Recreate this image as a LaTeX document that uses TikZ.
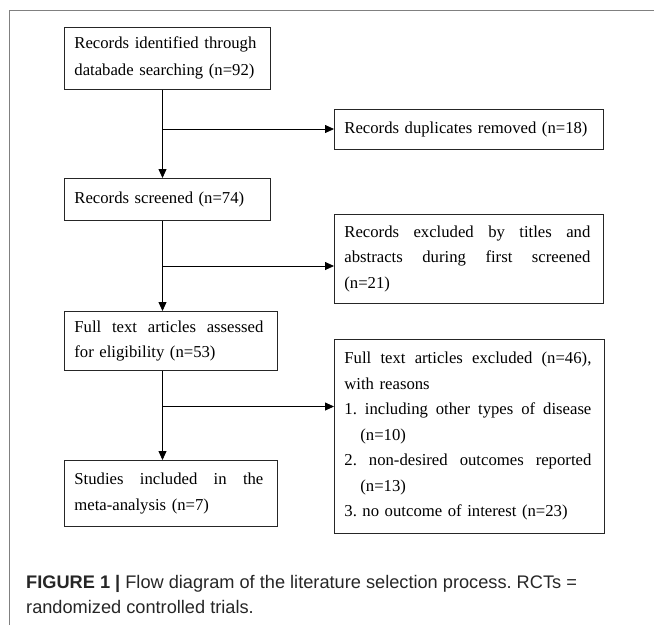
\documentclass[tikz,border=0pt]{standalone}
\usepackage{fontspec}
\setmainfont{Liberation Serif}
\newfontfamily\captionFont{Liberation Sans}
\usetikzlibrary{arrows.meta}
\setlength{\parindent}{0pt}
\frenchspacing
\tikzstyle{recordBox} = [draw=black!85, line width=0.8pt, anchor=north west, inner xsep=10pt, inner ysep=0pt, align=left, font=\fontsize{16.7}{25.5}\selectfont]
\tikzstyle{flowArrow} = [line width=0.8pt, -{Triangle[length=9pt, width=8pt]}]
\tikzstyle{frameLine} = [draw=black!50, line width=0.9pt]
\tikzstyle{captionText} = [anchor=base west, inner sep=0pt, text=black!85, font=\captionFont\fontsize{18.2}{25}\selectfont]
\newcommand{\justLine}[2]{\makebox[#1][s]{\spaceskip=0.25em plus 1fil\relax #2}}
\newcommand{\itemIndent}{\hspace*{16pt}}

\begin{document}
\begin{tikzpicture}[x=1pt, y=-1pt]
  \useasboundingbox (0,0) rectangle (654,625);
  \draw [frameLine] (9.5,625) -- (9.5,10.5) -- (654,10.5);

  \node [recordBox, text width=186pt, minimum height=62pt] (identified) at (64,27)
    {\justLine{182pt}{Records identified through}\\[1.5pt]\mbox{databade searching (n=92)}};
  \node [recordBox, text width=249pt, minimum height=40pt] (duplicates) at (334,109)
    {\mbox{Records duplicates removed (n=18)}};
  \node [recordBox, text width=186pt, minimum height=42pt] (screened) at (64,178)
    {\mbox{Records screened (n=74)}};
  \node [recordBox, text width=249pt, minimum height=89pt] (titles) at (334,214)
    {\justLine{246pt}{Records excluded by titles and}\\\justLine{246pt}{abstracts during first screened}\\(n=21)};
  \node [recordBox, text width=193pt, minimum height=59pt] (fulltext) at (64,311)
    {\justLine{189pt}{Full text articles assessed}\\\mbox{for eligibility (n=53)}};
  \node [recordBox, text width=250pt, minimum height=194pt] (excluded) at (334,339)
    {\justLine{247pt}{Full text articles excluded (n=46),}\\with reasons\\
     \justLine{247pt}{1. including other types of disease}\\\itemIndent(n=10)\\
     \justLine{247pt}{2. non-desired outcomes reported}\\\itemIndent(n=13)\\
     \mbox{3. no outcome of interest (n=23)}};
  \node [recordBox, text width=193pt, minimum height=66pt] (included) at (64,460)
    {\justLine{189pt}{Studies included in the}\\\mbox{meta-analysis (n=7)}};

  \coordinate (spine) at (162.5,0);
  \coordinate (splitA) at (162.5,129);
  \coordinate (splitB) at (162.5,266);
  \coordinate (splitC) at (162.5,406.5);

  \draw [flowArrow] (identified.south -| spine) -- (screened.north -| spine);
  \draw [flowArrow] (screened.south -| spine) -- (fulltext.north -| spine);
  \draw [flowArrow] (fulltext.south -| spine) -- (included.north -| spine);
  \draw [flowArrow] (splitA) -- (splitA -| duplicates.west);
  \draw [flowArrow] (splitB) -- (splitB -| titles.west);
  \draw [flowArrow] (splitC) -- (splitC -| excluded.west);

  \node [captionText] (captionTop) at (26,588)
    {\textbf{FIGURE 1 |} Flow diagram of the literature selection process. RCTs =};
  \node [captionText] (captionBottom) at (26,613) {randomized controlled trials.};
\end{tikzpicture}
\end{document}
